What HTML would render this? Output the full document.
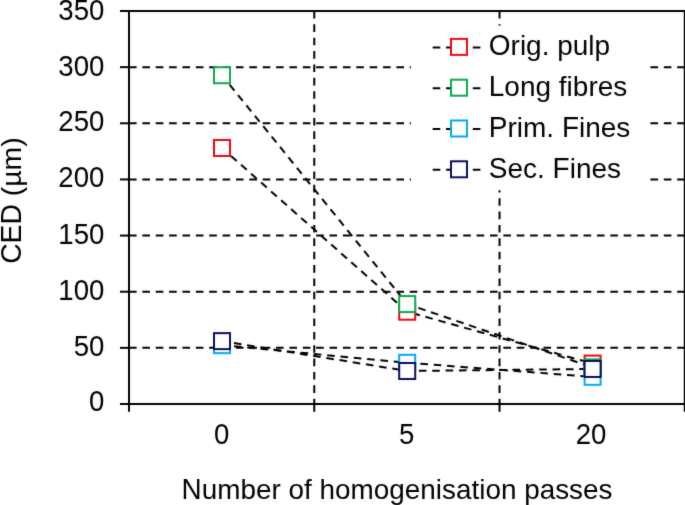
<!DOCTYPE html><html><head><meta charset="utf-8"><style>html,body{margin:0;padding:0;background:#fff;}svg{display:block;will-change:transform;}text{font-family:"Liberation Sans",sans-serif;font-size:28px;fill:#000;font-kerning:none;white-space:pre;}</style></head><body>
<svg width="685" height="505" viewBox="0 0 685 505">
<defs><filter id="soft" x="0" y="0" width="685" height="505" filterUnits="userSpaceOnUse" color-interpolation-filters="sRGB"><feConvolveMatrix order="5" kernelMatrix="0.00010 0.00090 0.00800 0.00090 0.00010 0.00090 0.00810 0.07200 0.00810 0.00090 0.00800 0.07200 0.64000 0.07200 0.00800 0.00090 0.00810 0.07200 0.00810 0.00090 0.00010 0.00090 0.00800 0.00090 0.00010" edgeMode="duplicate"/></filter></defs>
<g filter="url(#soft)">
<rect x="0" y="0" width="685" height="505" fill="#fff"/>
<line x1="129.0" y1="347.86" x2="684.8" y2="347.86" stroke="#000" stroke-width="2.0" stroke-dasharray="7.6 5.77"/>
<line x1="129.0" y1="291.71" x2="684.8" y2="291.71" stroke="#000" stroke-width="2.0" stroke-dasharray="7.6 5.77"/>
<line x1="129.0" y1="235.57" x2="684.8" y2="235.57" stroke="#000" stroke-width="2.0" stroke-dasharray="7.6 5.77"/>
<line x1="129.0" y1="179.43" x2="684.8" y2="179.43" stroke="#000" stroke-width="2.0" stroke-dasharray="7.6 5.77"/>
<line x1="129.0" y1="123.29" x2="684.8" y2="123.29" stroke="#000" stroke-width="2.0" stroke-dasharray="7.6 5.77"/>
<line x1="129.0" y1="67.14" x2="684.8" y2="67.14" stroke="#000" stroke-width="2.0" stroke-dasharray="7.6 5.77"/>
<line x1="314.27" y1="11.0" x2="314.27" y2="404.0" stroke="#000" stroke-width="2.0" stroke-dasharray="7.6 5.77"/>
<line x1="499.53" y1="11.0" x2="499.53" y2="404.0" stroke="#000" stroke-width="2.0" stroke-dasharray="7.6 5.77"/>
<line x1="120" y1="404.00" x2="129.0" y2="404.00" stroke="#000" stroke-width="2"/>
<line x1="120" y1="347.86" x2="129.0" y2="347.86" stroke="#000" stroke-width="2"/>
<line x1="120" y1="291.71" x2="129.0" y2="291.71" stroke="#000" stroke-width="2"/>
<line x1="120" y1="235.57" x2="129.0" y2="235.57" stroke="#000" stroke-width="2"/>
<line x1="120" y1="179.43" x2="129.0" y2="179.43" stroke="#000" stroke-width="2"/>
<line x1="120" y1="123.29" x2="129.0" y2="123.29" stroke="#000" stroke-width="2"/>
<line x1="120" y1="67.14" x2="129.0" y2="67.14" stroke="#000" stroke-width="2"/>
<line x1="120" y1="11.00" x2="129.0" y2="11.00" stroke="#000" stroke-width="2"/>
<line x1="129.00" y1="404.0" x2="129.00" y2="411.8" stroke="#000" stroke-width="2"/>
<line x1="314.27" y1="404.0" x2="314.27" y2="411.8" stroke="#000" stroke-width="2"/>
<line x1="499.53" y1="404.0" x2="499.53" y2="411.8" stroke="#000" stroke-width="2"/>
<line x1="684.80" y1="404.0" x2="684.80" y2="411.8" stroke="#000" stroke-width="2"/>
<path d="M129.0 11.0 H684.8 V404.0 H129.0 Z" fill="none" stroke="#000" stroke-width="2"/>
<polyline points="222.00,147.99 407.20,311.70 592.60,363.58" fill="none" stroke="#000" stroke-width="2.0" stroke-dasharray="7.6 5.77" stroke-dashoffset="1.3"/>
<polyline points="222.00,75.23 407.20,304.07 592.60,367.39" fill="none" stroke="#000" stroke-width="2.0" stroke-dasharray="7.6 5.77" stroke-dashoffset="1.3"/>
<polyline points="222.00,345.16 407.20,362.79 592.60,376.83" fill="none" stroke="#000" stroke-width="2.0" stroke-dasharray="7.6 5.77" stroke-dashoffset="1.3"/>
<polyline points="222.00,341.12 407.20,370.99 592.60,368.97" fill="none" stroke="#000" stroke-width="2.0" stroke-dasharray="7.6 5.77" stroke-dashoffset="1.3"/>
<rect x="214.00" y="139.99" width="16" height="16" fill="#fff" stroke="#f20610" stroke-width="2"/>
<rect x="399.20" y="303.70" width="16" height="16" fill="#fff" stroke="#f20610" stroke-width="2"/>
<rect x="584.60" y="355.58" width="16" height="16" fill="#fff" stroke="#f20610" stroke-width="2"/>
<rect x="214.00" y="67.23" width="16" height="16" fill="#fff" stroke="#0aaa4e" stroke-width="2"/>
<rect x="399.20" y="296.07" width="16" height="16" fill="#fff" stroke="#0aaa4e" stroke-width="2"/>
<rect x="584.60" y="359.39" width="16" height="16" fill="#fff" stroke="#0aaa4e" stroke-width="2"/>
<rect x="214.00" y="337.16" width="16" height="16" fill="#fff" stroke="#00aaee" stroke-width="2"/>
<rect x="399.20" y="354.79" width="16" height="16" fill="#fff" stroke="#00aaee" stroke-width="2"/>
<rect x="584.60" y="368.83" width="16" height="16" fill="#fff" stroke="#00aaee" stroke-width="2"/>
<rect x="214.00" y="333.12" width="16" height="16" fill="#fff" stroke="#090d5a" stroke-width="2"/>
<rect x="399.20" y="362.99" width="16" height="16" fill="#fff" stroke="#090d5a" stroke-width="2"/>
<rect x="584.60" y="360.97" width="16" height="16" fill="#fff" stroke="#090d5a" stroke-width="2"/>
<text transform="translate(104.40,19.60) translate(-46.049,0) scale(1.0,1.045)" style="font-size:27.6px" xml:space="preserve">350</text>
<text transform="translate(104.40,75.60) translate(-46.049,0) scale(1.0,1.045)" style="font-size:27.6px" xml:space="preserve">300</text>
<text transform="translate(104.40,130.90) translate(-46.049,0) scale(1.0,1.045)" style="font-size:27.6px" xml:space="preserve">250</text>
<text transform="translate(104.40,186.90) translate(-46.049,0) scale(1.0,1.045)" style="font-size:27.6px" xml:space="preserve">200</text>
<text transform="translate(104.40,243.70) translate(-46.049,0) scale(1.0,1.045)" style="font-size:27.6px" xml:space="preserve">150</text>
<text transform="translate(104.40,299.70) translate(-46.049,0) scale(1.0,1.045)" style="font-size:27.6px" xml:space="preserve">100</text>
<text transform="translate(104.40,355.60) translate(-30.700,0) scale(1.0,1.045)" style="font-size:27.6px" xml:space="preserve">50</text>
<text transform="translate(104.40,410.80) translate(-15.350,0) scale(1.0,1.045)" style="font-size:27.6px" xml:space="preserve">0</text>
<text transform="translate(221.65,444.40) translate(-7.675,0) scale(1.0,1.045)" style="font-size:27.6px" xml:space="preserve">0</text>
<text transform="translate(406.70,444.40) translate(-7.675,0) scale(1.0,1.045)" style="font-size:27.6px" xml:space="preserve">5</text>
<text transform="translate(591.00,444.40) translate(-15.350,0) scale(1.0,1.045)" style="font-size:27.6px" xml:space="preserve">20</text>
<text transform="translate(397.10,498.70) translate(-215.478,0) scale(0.996,1.041)" xml:space="preserve">N</text>
<text transform="translate(397.10,498.70) translate(-195.339,0) scale(0.996,0.982)" xml:space="preserve">umber of homogenisation passes</text>
<text transform="translate(20.60,200.60) rotate(-90) translate(-63.251,0) scale(1.012,1.041)" xml:space="preserve">CED </text>
<text transform="translate(20.60,200.60) rotate(-90) translate(4.448,0) scale(1.012,1.0)" xml:space="preserve">(</text>
<text transform="translate(20.60,200.60) rotate(-90) translate(13.884,0) scale(1.012,0.982)" xml:space="preserve">µm</text>
<text transform="translate(20.60,200.60) rotate(-90) translate(53.815,0) scale(1.012,1.0)" xml:space="preserve">)</text>
<rect x="410.9" y="25.6" width="237.1" height="164.7" fill="#fff"/>
<line x1="432.7" y1="47.45" x2="480.7" y2="47.45" stroke="#000" stroke-width="2.0" stroke-dasharray="7.6 5.77"/>
<rect x="451.0" y="38.90" width="16" height="16" fill="#fff" stroke="#f20610" stroke-width="2"/>
<text transform="translate(488.80,55.30) translate(0.000,0) scale(1.0,1.041)" xml:space="preserve">O</text>
<text transform="translate(488.80,55.30) translate(21.779,0) scale(1.0,0.982)" xml:space="preserve">rig. pulp</text>
<line x1="432.7" y1="88.25" x2="480.7" y2="88.25" stroke="#000" stroke-width="2.0" stroke-dasharray="7.6 5.77"/>
<rect x="451.0" y="79.70" width="16" height="16" fill="#fff" stroke="#0aaa4e" stroke-width="2"/>
<text transform="translate(488.80,96.10) translate(0.000,0) scale(1.0,1.041)" xml:space="preserve">L</text>
<text transform="translate(488.80,96.10) translate(15.572,0) scale(1.0,0.982)" xml:space="preserve">ong fibres</text>
<line x1="432.7" y1="129.05" x2="480.7" y2="129.05" stroke="#000" stroke-width="2.0" stroke-dasharray="7.6 5.77"/>
<rect x="451.0" y="120.50" width="16" height="16" fill="#fff" stroke="#00aaee" stroke-width="2"/>
<text transform="translate(488.80,136.90) translate(0.000,0) scale(1.0,1.041)" xml:space="preserve">P</text>
<text transform="translate(488.80,136.90) translate(18.676,0) scale(1.0,0.982)" xml:space="preserve">rim. </text>
<text transform="translate(488.80,136.90) translate(73.104,0) scale(1.0,1.041)" xml:space="preserve">F</text>
<text transform="translate(488.80,136.90) translate(90.207,0) scale(1.0,0.982)" xml:space="preserve">ines</text>
<line x1="432.7" y1="169.85" x2="480.7" y2="169.85" stroke="#000" stroke-width="2.0" stroke-dasharray="7.6 5.77"/>
<rect x="451.0" y="161.30" width="16" height="16" fill="#fff" stroke="#090d5a" stroke-width="2"/>
<text transform="translate(488.80,177.70) translate(0.000,0) scale(1.0,1.041)" xml:space="preserve">S</text>
<text transform="translate(488.80,177.70) translate(18.676,0) scale(1.0,0.982)" xml:space="preserve">ec. </text>
<text transform="translate(488.80,177.70) translate(63.807,0) scale(1.0,1.041)" xml:space="preserve">F</text>
<text transform="translate(488.80,177.70) translate(80.910,0) scale(1.0,0.982)" xml:space="preserve">ines</text>
</g></svg></body></html>
